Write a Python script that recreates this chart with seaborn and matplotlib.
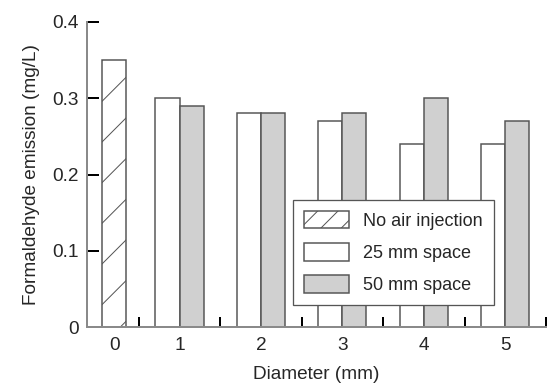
import numpy as np
import pandas as pd
import matplotlib
matplotlib.use('Agg')
import matplotlib.pyplot as plt
from matplotlib.patches import Patch
from matplotlib.ticker import FixedLocator, FuncFormatter
import seaborn as sns

# data
diameters = ['1', '2', '3', '4', '5']
space_25mm = [0.30, 0.28, 0.27, 0.24, 0.24]
space_50mm = [0.29, 0.28, 0.28, 0.30, 0.27]
no_air_value = 0.35
x_order = ['0', '1', '2', '3', '4', '5']
series_names = ['No air injection', '25 mm space', '50 mm space']
y_ticks = [0, 0.1, 0.2, 0.3, 0.4]

# hatch spacing follows the dpi, this one gives the ~30 px of the reference
DPI = 122
W, H = 547, 391


def pt(px):
    # pixels -> points at this dpi
    return px * 72.0 / DPI


df = pd.DataFrame({
    'diameter': diameters * 2,
    'emission': space_25mm + space_50mm,
    'space': [series_names[1]] * 5 + [series_names[2]] * 5,
})

sns.set_theme(style='ticks')
plt.rcParams['font.family'] = ['Liberation Sans', 'DejaVu Sans']
plt.rcParams['hatch.color'] = '#555555'
plt.rcParams['hatch.linewidth'] = pt(1.0)

edge = '#555555'
gray_fill = '#d0d0d0'
bar_w = 0.295

fig = plt.figure(figsize=(W / DPI, H / DPI), dpi=DPI)
ax = fig.add_axes([87 / W, (H - 327) / H, 459 / W, 305 / H])

sns.barplot(data=df, x='diameter', y='emission', hue='space', order=x_order,
            hue_order=series_names[1:], palette=['white', gray_fill],
            width=2 * bar_w, saturation=1, errorbar=None, legend=False,
            edgecolor=edge, linewidth=pt(1.5), ax=ax)

# the reference bar sits a bit right of the first slot
no_air_pos = 0.2
ax.bar(no_air_pos, no_air_value, width=bar_w, color='white', edgecolor=edge,
       linewidth=pt(1.5), hatch='/')

ax.set_xlim(-0.136, 5.5)
ax.set_ylim(0, 0.4)

ax.xaxis.set_major_locator(FixedLocator([no_air_pos, 1, 2, 3, 4, 5]))
ax.set_xticklabels(x_order)
ax.xaxis.set_minor_locator(FixedLocator(np.arange(0.5, 6.0, 1.0)))
ax.tick_params(axis='x', which='major', length=0, pad=pt(10), labelsize=pt(19))
ax.tick_params(axis='x', which='minor', direction='in', length=pt(10),
               width=pt(2), color='black')

ax.yaxis.set_major_locator(FixedLocator(y_ticks))
ax.yaxis.set_major_formatter(FuncFormatter(lambda v, p: '0' if v == 0 else f'{v:.1f}'))
ax.tick_params(axis='y', direction='in', length=pt(12), width=pt(2),
               color='black', pad=pt(8), labelsize=pt(19))

for side in ['top', 'right']:
    ax.spines[side].set_visible(False)
for side in ['left', 'bottom']:
    ax.spines[side].set_color('#8a8a8a')
    ax.spines[side].set_linewidth(pt(2))

ax.set_xlabel('Diameter (mm)', fontsize=pt(19), labelpad=pt(12))
ax.set_ylabel('Formaldehyde emission (mg/L)', fontsize=pt(19), labelpad=pt(12))

handles = [
    Patch(facecolor='white', edgecolor=edge, hatch='//', linewidth=pt(1.5)),
    Patch(facecolor='white', edgecolor=edge, linewidth=pt(1.5)),
    Patch(facecolor=gray_fill, edgecolor=edge, linewidth=pt(1.5)),
]
leg = ax.legend(handles, series_names, loc='lower left',
                bbox_to_anchor=(0.449, 0.072), borderaxespad=0,
                fontsize=pt(18), handlelength=2.5, handleheight=1.1,
                labelspacing=0.75, handletextpad=0.8, borderpad=0.6,
                fancybox=False, framealpha=1, edgecolor=edge)
leg.get_frame().set_linewidth(pt(1.3))

fig.savefig('out.png', dpi=DPI)
plt.close(fig)
